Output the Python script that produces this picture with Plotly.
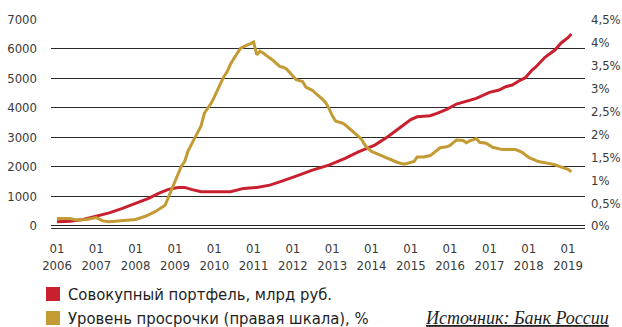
import plotly.graph_objects as go

# Mortgage portfolio, billion rubles (left axis)
portfolio_dates = [
    "2006-01", "2006-05", "2006-09", "2007-01", "2007-05", "2007-09", "2008-01",
    "2008-05", "2008-08", "2008-11", "2009-02", "2009-04", "2009-06", "2009-09",
    "2010-06", "2010-10", "2011-02", "2011-06", "2011-09", "2011-11", "2012-02",
    "2012-07", "2012-12", "2013-05", "2013-09", "2014-02", "2014-06", "2014-10",
    "2015-01", "2015-03", "2015-07", "2015-09", "2015-12", "2016-03", "2016-06",
    "2016-09", "2017-01", "2017-04", "2017-06", "2017-08", "2017-10", "2017-12",
    "2018-02", "2018-03", "2018-06", "2018-09", "2018-11", "2019-01", "2019-02",
]
portfolio_values = [
    139, 162, 220, 332, 443, 592, 762,
    931, 1100, 1236, 1303, 1303, 1236, 1154,
    1154, 1270, 1303, 1381, 1493, 1560, 1686,
    1889, 2058, 2285, 2508, 2735, 3016, 3345,
    3600, 3693, 3727, 3808, 3943, 4123, 4225,
    4316, 4519, 4597, 4709, 4766, 4902, 5014,
    5274, 5352, 5704, 5951, 6198, 6368, 6493,
]

# Overdue share, % (right axis)
overdue_dates = [
    "2006-01", "2006-05", "2006-07", "2006-10", "2007-01", "2007-03", "2007-05",
    "2007-09", "2008-01", "2008-04", "2008-07", "2008-10", "2008-11", "2008-12",
    "2009-01", "2009-02", "2009-03", "2009-04", "2009-05", "2009-07", "2009-08",
    "2009-09", "2009-10", "2009-11", "2009-12", "2010-01", "2010-02", "2010-03",
    "2010-04", "2010-05", "2010-06", "2010-07", "2010-08", "2010-09", "2010-10",
    "2010-11", "2010-12", "2011-01", "2011-02", "2011-03", "2011-04", "2011-05",
    "2011-06", "2011-07", "2011-08", "2011-09", "2011-10", "2011-11", "2011-12",
    "2012-01", "2012-02", "2012-03", "2012-04", "2012-05", "2012-06", "2012-07",
    "2012-08", "2012-09", "2012-10", "2012-11", "2012-12", "2013-01", "2013-02",
    "2013-03", "2013-04", "2013-05", "2013-06", "2013-07", "2013-08", "2013-09",
    "2013-10", "2013-11", "2013-12", "2014-01", "2014-03", "2014-05", "2014-07",
    "2014-09", "2014-11", "2014-12", "2015-01", "2015-02", "2015-03", "2015-05",
    "2015-07", "2015-09", "2015-10", "2015-12", "2016-01", "2016-03", "2016-05",
    "2016-06", "2016-07", "2016-08", "2016-09", "2016-10", "2016-12", "2017-02",
    "2017-05", "2017-09", "2017-11", "2018-01", "2018-04", "2018-07", "2018-09",
    "2018-11", "2019-01", "2019-02",
]
overdue_values = [
    0.16, 0.16, 0.13, 0.14, 0.18, 0.11, 0.09,
    0.12, 0.14, 0.21, 0.31, 0.45, 0.62, 0.82,
    0.96, 1.15, 1.30, 1.40, 1.62, 1.90, 2.05,
    2.18, 2.45, 2.55, 2.66, 2.80, 2.97, 3.10,
    3.25, 3.35, 3.52, 3.62, 3.75, 3.86, 3.90,
    3.93, 3.96, 4.00, 3.72, 3.80, 3.76, 3.70,
    3.65, 3.60, 3.53, 3.47, 3.45, 3.42, 3.34,
    3.25, 3.18, 3.16, 3.14, 3.02, 2.98, 2.95,
    2.88, 2.82, 2.76, 2.68, 2.56, 2.40, 2.28,
    2.26, 2.24, 2.20, 2.14, 2.08, 2.02, 1.95,
    1.88, 1.76, 1.68, 1.62, 1.56, 1.50, 1.44,
    1.38, 1.34, 1.36, 1.39, 1.40, 1.50, 1.50,
    1.53, 1.64, 1.70, 1.72, 1.75, 1.87, 1.86,
    1.81, 1.85, 1.87, 1.90, 1.82, 1.80, 1.71,
    1.66, 1.66, 1.60, 1.49, 1.40, 1.36, 1.33,
    1.28, 1.23, 1.18,
]

years = list(range(2006, 2020))
tick_dates = [f"{y}-01-01" for y in years]
tick_text = [f"01<br>{y}" for y in years]

left_ticks = [0, 1000, 2000, 3000, 4000, 5000, 6000, 7000]
right_ticks = [0, 0.5, 1, 1.5, 2, 2.5, 3, 3.5, 4, 4.5]
right_text = ["0%", "0,5%", "1%", "1,5%", "2%", "2,5%", "3%", "3,5%", "4%", "4,5%"]

series_names = ["Совокупный портфель, млрд руб.", "Уровень просрочки (правая шкала), %"]
source_text = "Источник: Банк России"

RED = "#C9202F"
GOLD = "#C39A33"
COND = "DejaVu Sans Condensed, Liberation Sans Narrow, sans-serif"
TICK_FONT = dict(family=COND, size=13, color="#3a3a3a")

Y_MAX = 7000
Y_MIN = -70
Y2_MAX = 4.5
Y2_MIN = Y_MIN * Y2_MAX / Y_MAX

fig = go.Figure()
fig.add_trace(go.Scatter(
    x=portfolio_dates, y=portfolio_values, name=series_names[0],
    mode="lines", line=dict(color=RED, width=3), yaxis="y",
))
fig.add_trace(go.Scatter(
    x=overdue_dates, y=overdue_values, name=series_names[1],
    mode="lines", line=dict(color=GOLD, width=3), yaxis="y2",
))

# Plot-area geometry in pixels, for placing the hand-made legend
L, R, T, B = 51, 37, 19, 99
W, H = 622, 327
pw, ph = W - L - R, H - T - B


def px(x):
    return (x - L) / pw


def py(y):
    return (H - B - y) / ph


shapes = []
annotations = []
for i, (name, color) in enumerate(zip(series_names, [RED, GOLD])):
    top = 287 + i * 24
    shapes.append(dict(type="rect", xref="paper", yref="paper",
                       x0=px(46), x1=px(60), y0=py(top + 14), y1=py(top),
                       fillcolor=color, line=dict(width=0)))
    annotations.append(dict(xref="paper", yref="paper", x=px(66), y=py(top + 7),
                            xanchor="left", yanchor="middle", showarrow=False,
                            text=name, font=dict(family=COND, size=16.5, color="#1e1e1e")))

annotations.append(dict(xref="paper", yref="paper", x=px(611), y=py(318),
                        xanchor="right", yanchor="middle", showarrow=False,
                        text=f"<u><i>{source_text}</i></u>",
                        font=dict(family="Liberation Serif, DejaVu Serif, serif",
                                  size=18, color="#1e1e1e")))

fig.update_layout(
    width=W, height=H,
    margin=dict(l=L, r=R, t=T, b=B, pad=0, autoexpand=False),
    paper_bgcolor="white", plot_bgcolor="white",
    showlegend=False,
    shapes=shapes,
    annotations=annotations,
    xaxis=dict(
        type="date", automargin=False,
        range=["2005-11-06", "2019-06-08"],
        tickvals=tick_dates, ticktext=tick_text,
        showgrid=False, zeroline=False,
        showline=True, linecolor="#333", linewidth=1,
        ticks="", ticklabelstandoff=8,
        tickfont=TICK_FONT,
    ),
    yaxis=dict(
        automargin=False,
        range=[Y_MIN, Y_MAX],
        tickvals=left_ticks,
        showgrid=True, gridcolor="#2a2a2a", gridwidth=1,
        zeroline=True, zerolinecolor="#2a2a2a", zerolinewidth=1,
        showline=False, ticks="", ticklabelstandoff=13,
        tickfont=TICK_FONT,
    ),
    yaxis2=dict(
        automargin=False,
        overlaying="y", side="right",
        range=[Y2_MIN, Y2_MAX],
        tickvals=right_ticks, ticktext=right_text,
        showgrid=False, zeroline=False, showline=False,
        ticks="", ticklabelstandoff=5,
        tickfont=TICK_FONT,
    ),
)

fig.write_html("out.html")
